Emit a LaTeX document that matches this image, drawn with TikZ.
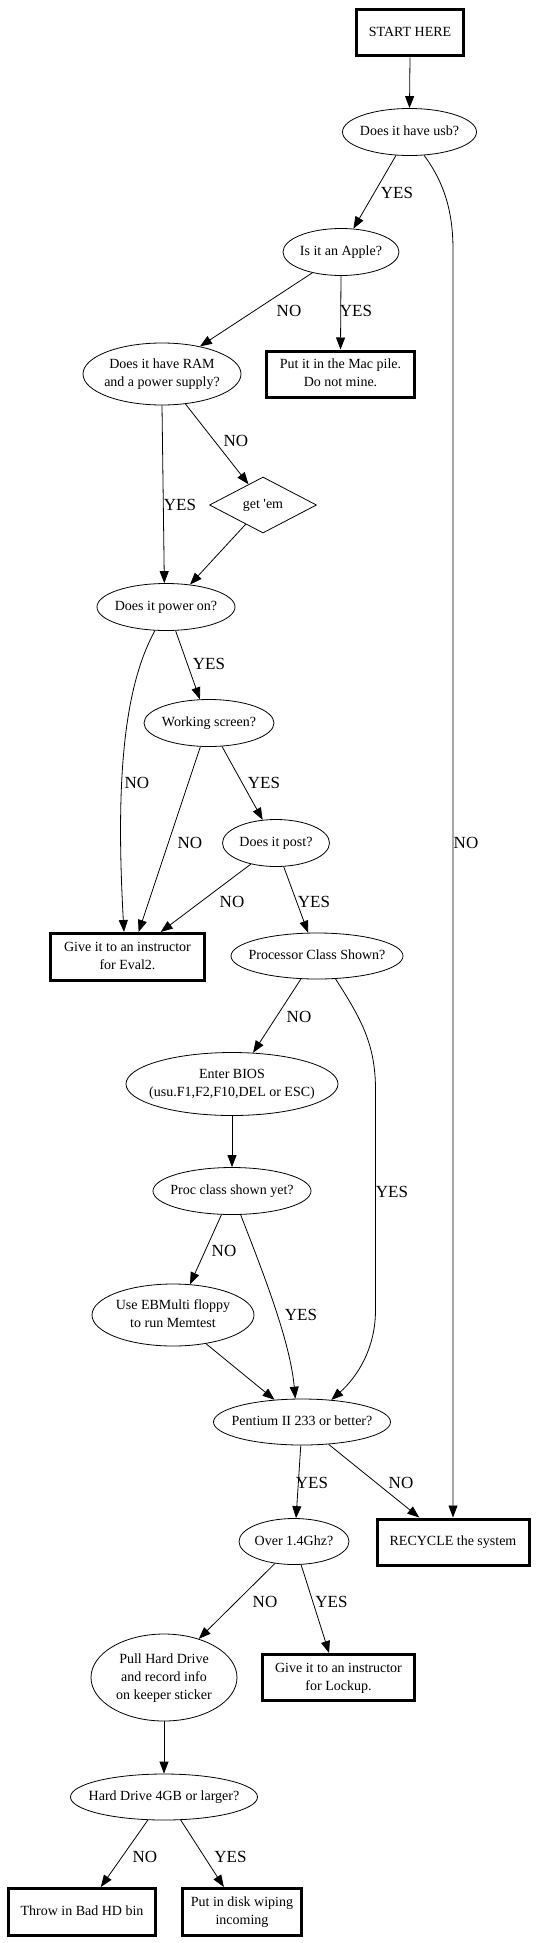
\documentclass[tikz,border=0pt]{standalone}
\usepackage{fontspec}
\setmainfont{Liberation Serif}
\usetikzlibrary{shapes.geometric,arrows.meta}
\newcommand{\ctext}[1]{\makebox[0pt]{\begin{tabular}{@{}c@{}}#1\end{tabular}}}
\begin{document}
\begin{tikzpicture}[x=1pt,y=-1pt,
  base/.style={inner sep=0pt, font=\fontsize{14}{18}\selectfont, line width=0.8pt},
  q/.style={base, draw, ellipse},
  act/.style={base, draw, rectangle, line width=3pt},
  dia/.style={base, draw, diamond, aspect=1.91},
  edge/.style={draw, line width=0.8pt, -{Triangle[length=12pt,width=9pt]}},
  lbl/.style={font=\fontsize{17}{20}\selectfont, inner sep=0pt}
]
\useasboundingbox (0,0) rectangle (538,1943);

% nodes
\node[act, minimum width=107pt, minimum height=46pt] (start) at (410,33) {\ctext{START HERE}};
\node[q, minimum width=134pt, minimum height=47pt] (usb) at (409.5,132) {\ctext{Does it have usb?}};
\node[q, minimum width=116pt, minimum height=47pt] (apple) at (341,252) {\ctext{Is it an Apple?}};
\node[q, minimum width=158pt, minimum height=62pt] (ram) at (162,374) {\ctext{Does it have RAM\\and a power supply?}};
\node[act, minimum width=148pt, minimum height=46pt] (mac) at (340.5,374) {\ctext{Put it in the Mac pile.\\Do not mine.}};
\node[dia, minimum width=107pt, minimum height=56pt] (getem) at (263,505) {\ctext{get \textquotesingle em}};
\node[q, minimum width=138pt, minimum height=47pt] (power) at (166,607) {\ctext{Does it power on?}};
\node[q, minimum width=130pt, minimum height=47pt] (working) at (209,723) {\ctext{Working screen?}};
\node[q, minimum width=107pt, minimum height=47pt] (post) at (276,843) {\ctext{Does it post?}};
\node[act, minimum width=154pt, minimum height=47pt] (eval) at (127.5,957) {\ctext{Give it to an instructor\\for Eval2.}};
\node[q, minimum width=172pt, minimum height=46pt] (pcs) at (317,956) {\ctext{Processor Class Shown?}};
\node[q, minimum width=212pt, minimum height=63pt] (bios) at (232,1084) {\ctext{Enter BIOS\\(usu.F1,F2,F10,DEL or ESC)}};
\node[q, minimum width=158pt, minimum height=47pt] (pyet) at (232,1191) {\ctext{Proc class shown yet?}};
\node[q, minimum width=162pt, minimum height=62pt] (ebm) at (173,1315) {\ctext{Use EBMulti floppy\\to run Memtest}};
\node[q, minimum width=177pt, minimum height=46pt] (pent) at (302,1422) {\ctext{Pentium II 233 or better?}};
\node[q, minimum width=110pt, minimum height=46pt] (over) at (294,1541.5) {\ctext{Over 1.4Ghz?}};
\node[act, minimum width=152pt, minimum height=46pt] (recycle) at (453,1542) {\ctext{RECYCLE the system}};
\node[q, minimum width=146pt, minimum height=87pt] (pull) at (164,1677.5) {\ctext{Pull Hard Drive\\and record info\\on keeper sticker}};
\node[act, minimum width=152pt, minimum height=46pt] (lockup) at (338.5,1677.5) {\ctext{Give it to an instructor\\for Lockup.}};
\node[q, minimum width=187pt, minimum height=46pt] (hd) at (164,1797) {\ctext{Hard Drive 4GB or larger?}};
\node[act, minimum width=147pt, minimum height=47pt] (throw) at (82,1912) {\ctext{Throw in Bad HD bin}};
\node[act, minimum width=119pt, minimum height=47pt] (disk) at (242,1912) {\ctext{Put in disk wiping\\incoming}};

% edges
\draw[edge] (start.south) -- (usb.north);
\draw[edge] (usb.240) -- (apple.62);
\draw[edge] (usb.302) .. controls (446,185) and (453,215) .. (453,250) -- (recycle.north);
\draw[edge] (apple.216) -- (ram.36);
\draw[edge] (apple.south) -- (mac.north);
\draw[edge] (ram.308) -- (getem.125);
\draw[edge] (ram.south) -- (power.94);
\draw[edge] (getem.228) -- (power.43);
\draw[edge] (power.245) .. controls (122,690) and (116,790) .. (eval.98);
\draw[edge] (power.292) -- (working.111);
\draw[edge] (working.250) -- (eval.66);
\draw[edge] (working.299) -- (post.120);
\draw[edge] (post.220) -- (eval.37);
\draw[edge] (post.288) -- (pcs.111);
\draw[edge] (pcs.235) -- (bios.56);
\draw[edge] (pcs.309) .. controls (362,1020) and (375.5,1045) .. (375.5,1090) -- (375.5,1310) .. controls (375.5,1350) and (356,1378) .. (pent.37);
\draw[edge] (bios.south) -- (pyet.north);
\draw[edge] (pyet.246) -- (ebm.61);
\draw[edge] (pyet.290) .. controls (262,1270) and (290,1340) .. (pent.106);
\draw[edge] (ebm.319) -- (pent.141);
\draw[edge] (pent.267) -- (over.85);
\draw[edge] (pent.320) -- (recycle.144);
\draw[edge] (over.229) -- (pull.48);
\draw[edge] (over.287) -- (lockup.111);
\draw[edge] (pull.south) -- (hd.north);
\draw[edge] (hd.235) -- (throw.53);
\draw[edge] (hd.306) -- (disk.126);

% labels
\node[lbl] (l1) at (397,193) {YES};
\node[lbl] (l2) at (289,311) {NO};
\node[lbl] (l3) at (356,311) {YES};
\node[lbl] (l4) at (236,441) {NO};
\node[lbl] (l5) at (180,505) {YES};
\node[lbl] (l6) at (209,664) {YES};
\node[lbl] (l7) at (137,783) {NO};
\node[lbl] (l8) at (264,783) {YES};
\node[lbl] (l9) at (190,843) {NO};
\node[lbl] (l10) at (466,843) {NO};
\node[lbl] (l11) at (232,902) {NO};
\node[lbl] (l12) at (314,902) {YES};
\node[lbl] (l13) at (299,1017) {NO};
\node[lbl] (l14) at (392,1192) {YES};
\node[lbl] (l15) at (224,1251) {NO};
\node[lbl] (l16) at (301,1315) {YES};
\node[lbl] (l17) at (312,1483) {YES};
\node[lbl] (l18) at (401,1483) {NO};
\node[lbl] (l19) at (265,1602) {NO};
\node[lbl] (l20) at (331.5,1602) {YES};
\node[lbl] (l21) at (145,1857) {NO};
\node[lbl] (l22) at (230.5,1857) {YES};
\end{tikzpicture}
\end{document}
